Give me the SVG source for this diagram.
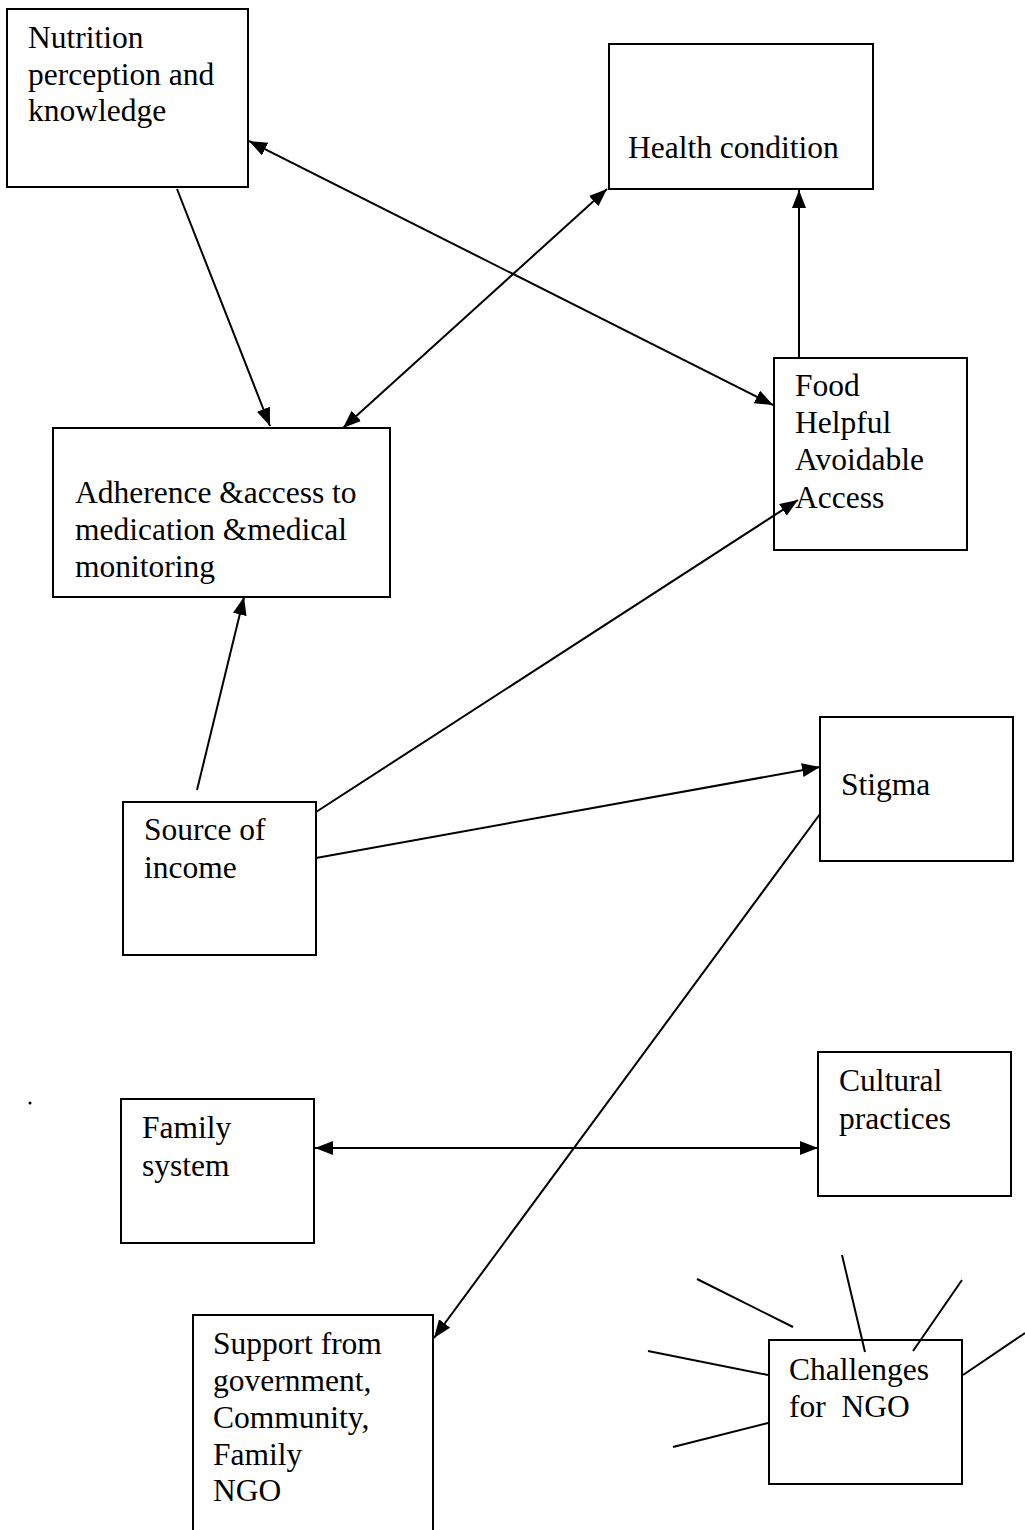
<svg xmlns="http://www.w3.org/2000/svg" width="1025" height="1530" viewBox="0 0 1025 1530">
<style>
.box{fill:#fff;stroke:#000;stroke-width:2}
.t{font-family:"Liberation Serif","Times New Roman",serif;font-size:31.5px;fill:#000}
.ln{stroke:#000;stroke-width:2;fill:none}
</style>
<defs>
<marker id="ah" markerUnits="userSpaceOnUse" markerWidth="20" markerHeight="16" refX="18" refY="7" orient="auto-start-reverse">
<path d="M0,0 L18,7 L0,14 z" fill="#000"/>
</marker>
</defs>
<rect width="1025" height="1530" fill="#fff"/>
<g id="connectors">
<line class="ln" x1="177" y1="189" x2="270" y2="426" marker-end="url(#ah)"/>
<line class="ln" x1="249" y1="141" x2="773" y2="405" marker-start="url(#ah)" marker-end="url(#ah)"/>
<line class="ln" x1="607" y1="189" x2="343" y2="428" marker-start="url(#ah)" marker-end="url(#ah)"/>
<line class="ln" x1="799" y1="357" x2="799" y2="190" marker-end="url(#ah)"/>
<line class="ln" x1="197" y1="790" x2="244" y2="597" marker-end="url(#ah)"/>
<line class="ln" x1="316" y1="812" x2="798" y2="500" marker-end="url(#ah)"/>
<line class="ln" x1="316" y1="858" x2="820" y2="767" marker-end="url(#ah)"/>
<line class="ln" x1="820" y1="814" x2="434" y2="1338" marker-end="url(#ah)"/>
<line class="ln" x1="315" y1="1148" x2="818" y2="1148" marker-start="url(#ah)" marker-end="url(#ah)"/>
</g>
<g id="nutrition">
<rect class="box" x="7" y="9" width="241" height="178"/>
<text class="t" x="28" y="48">Nutrition</text>
<text class="t" x="28" y="85">perception and</text>
<text class="t" x="28" y="121">knowledge</text>
</g>
<g id="health">
<rect class="box" x="609" y="44" width="264" height="145"/>
<text class="t" x="628" y="158">Health condition</text>
</g>
<g id="food">
<rect class="box" x="774" y="358" width="193" height="192" style="fill:none"/>
<text class="t" x="795" y="396">Food</text>
<text class="t" x="795" y="433">Helpful</text>
<text class="t" x="795" y="470">Avoidable</text>
<text class="t" x="795" y="508">Access</text>
</g>
<g id="adherence">
<rect class="box" x="53" y="428" width="337" height="169"/>
<text class="t" x="75" y="503">Adherence &amp;access to</text>
<text class="t" x="75" y="540">medication &amp;medical</text>
<text class="t" x="75" y="577">monitoring</text>
</g>
<g id="income">
<rect class="box" x="123" y="802" width="193" height="153"/>
<text class="t" x="144" y="840">Source of</text>
<text class="t" x="144" y="878">income</text>
</g>
<g id="stigma">
<rect class="box" x="820" y="717" width="193" height="144"/>
<text class="t" x="841" y="795">Stigma</text>
</g>
<g id="cultural">
<rect class="box" x="818" y="1052" width="193" height="144"/>
<text class="t" x="839" y="1091">Cultural</text>
<text class="t" x="839" y="1129">practices</text>
</g>
<g id="family">
<rect class="box" x="121" y="1099" width="193" height="144"/>
<text class="t" x="142" y="1138">Family</text>
<text class="t" x="142" y="1176">system</text>
</g>
<g id="support">
<path class="box" d="M193,1530 L193,1315 L433,1315 L433,1530"/>
<text class="t" x="213" y="1354">Support from</text>
<text class="t" x="213" y="1391">government,</text>
<text class="t" x="213" y="1428">Community,</text>
<text class="t" x="213" y="1465">Family</text>
<text class="t" x="213" y="1501">NGO</text>
</g>
<g id="challenges">
<rect class="box" x="769" y="1340" width="193" height="144" style="fill:none"/>
<text class="t" x="789" y="1380">Challenges</text>
<text class="t" x="789" y="1417" style="white-space:pre">for  NGO</text>
<g id="challenge-rays">
<line class="ln" x1="697" y1="1279" x2="793" y2="1327"/>
<line class="ln" x1="648" y1="1351" x2="768" y2="1375"/>
<line class="ln" x1="673" y1="1447" x2="768" y2="1423"/>
<line class="ln" x1="842" y1="1255" x2="865" y2="1352"/>
<line class="ln" x1="962" y1="1280" x2="913" y2="1351"/>
<line class="ln" x1="1025" y1="1333" x2="963" y2="1375"/>
</g>
</g>
<circle cx="30" cy="1103" r="1.5" fill="#000"/>
</svg>
